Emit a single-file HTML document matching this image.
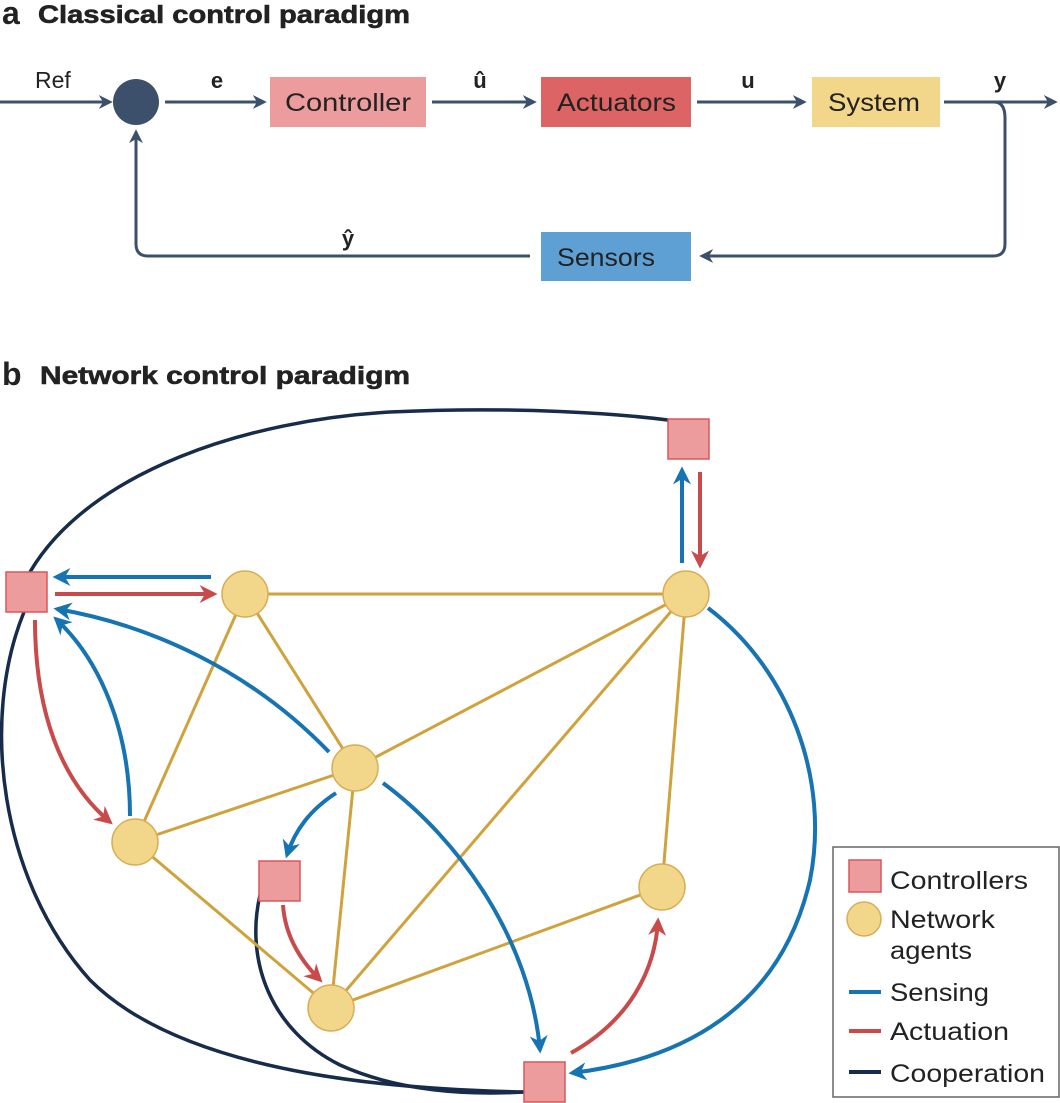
<!DOCTYPE html>
<html><head><meta charset="utf-8"><style>
html,body{margin:0;padding:0;background:#fff;}
svg{display:block;}
text{font-family:"Liberation Sans",sans-serif;}
</style></head><body>
<svg width="1060" height="1103" viewBox="0 0 1060 1103" xmlns="http://www.w3.org/2000/svg">
<defs>
<marker id="ad" viewBox="0 0 10 10" markerWidth="14" markerHeight="14" refX="8" refY="5" orient="auto" markerUnits="userSpaceOnUse"><path d="M0,0 L10,5 L0,10 L3,5 Z" fill="#3c4f6b"/></marker>
<marker id="ab" viewBox="0 0 10 10" markerWidth="18" markerHeight="18" refX="8" refY="5" orient="auto" markerUnits="userSpaceOnUse"><path d="M0,0 L10,5 L0,10 L3,5 Z" fill="#1774b3"/></marker>
<marker id="ar" viewBox="0 0 10 10" markerWidth="18" markerHeight="18" refX="8" refY="5" orient="auto" markerUnits="userSpaceOnUse"><path d="M0,0 L10,5 L0,10 L3,5 Z" fill="#c94a4a"/></marker>
</defs>
<!-- Panel a -->
<text x="2" y="24" font-size="32" font-weight="bold" fill="#222">a</text>
<text x="38" y="23" font-size="25" font-weight="bold" fill="#222" textLength="372" lengthAdjust="spacingAndGlyphs" stroke="#222" stroke-width="0.6">Classical control paradigm</text>
<g stroke="#3c4f6b" stroke-width="3" fill="none">
<line x1="0" y1="102" x2="110" y2="102" marker-end="url(#ad)"/>
<line x1="165" y1="102" x2="264" y2="102" marker-end="url(#ad)"/>
<line x1="432" y1="102" x2="534" y2="102" marker-end="url(#ad)"/>
<line x1="697" y1="102" x2="804" y2="102" marker-end="url(#ad)"/>
<line x1="944" y1="102" x2="1055" y2="102" marker-end="url(#ad)"/>
<path d="M994,102 Q1005,102 1005,118 L1005,244 Q1005,256 993,256 L702,256" marker-end="url(#ad)"/>
<path d="M530,256 L148,256 Q136,256 136,244 L136,132" marker-end="url(#ad)"/>
</g>
<circle cx="136" cy="102" r="23" fill="#3c4f6b"/>
<rect x="270" y="77" width="156" height="50" fill="#ec9c9c"/>
<rect x="541" y="77" width="150" height="50" fill="#dc6464"/>
<rect x="812" y="77" width="128" height="50" fill="#f2d68a"/>
<rect x="541" y="232" width="150" height="49" fill="#5fa0d4"/>
<g font-size="25" fill="#222">
<text x="285" y="111" textLength="126" lengthAdjust="spacingAndGlyphs">Controller</text>
<text x="557" y="111" textLength="119" lengthAdjust="spacingAndGlyphs">Actuators</text>
<text x="828" y="111" textLength="92" lengthAdjust="spacingAndGlyphs">System</text>
<text x="557" y="266" textLength="98" lengthAdjust="spacingAndGlyphs">Sensors</text>
<text x="35" y="88" font-size="23">Ref</text>
</g>
<g font-size="22" font-weight="bold" fill="#222" text-anchor="middle">
<text x="217" y="88">e</text>
<text x="480" y="88">û</text>
<text x="748" y="88">u</text>
<text x="1000" y="88">y</text>
<text x="348" y="246">ŷ</text>
</g>
<!-- Panel b -->
<text x="2" y="385" font-size="32" font-weight="bold" fill="#222">b</text>
<text x="40" y="384" font-size="25" font-weight="bold" fill="#222" textLength="370" lengthAdjust="spacingAndGlyphs" stroke="#222" stroke-width="0.6">Network control paradigm</text>
<!-- cooperation -->
<g stroke="#172b4a" stroke-width="3.5" fill="none">
<path d="M30,572 C90,470 250,420 390,412 C520,406 620,414 668,420"/>
<path d="M24,612 C-20,720 0,880 90,980 C190,1080 420,1090 524,1092"/>
<path d="M260,895 C245,960 270,1030 340,1065 C400,1092 470,1095 524,1092"/>
</g>
<!-- gold edges -->
<g stroke="#d0a23c" stroke-width="3">
<line x1="245" y1="594" x2="686" y2="594"/>
<line x1="245" y1="594" x2="135" y2="842"/>
<line x1="245" y1="594" x2="355" y2="768"/>
<line x1="686" y1="594" x2="355" y2="768"/>
<line x1="686" y1="594" x2="331" y2="1008"/>
<line x1="686" y1="594" x2="662" y2="887"/>
<line x1="355" y1="768" x2="135" y2="842"/>
<line x1="355" y1="768" x2="331" y2="1008"/>
<line x1="135" y1="842" x2="331" y2="1008"/>
<line x1="662" y1="887" x2="331" y2="1008"/>
</g>
<!-- sensing -->
<g stroke="#1774b3" stroke-width="4" fill="none">
<line x1="211" y1="577" x2="56" y2="577" marker-end="url(#ab)"/>
<path d="M329,752 C250,670 150,625 57,609" marker-end="url(#ab)"/>
<path d="M130,816 C130,730 100,660 56,619" marker-end="url(#ab)"/>
<path d="M336,793 C310,810 295,830 287,855" marker-end="url(#ab)"/>
<path d="M383,783 C460,840 530,940 540,1050" marker-end="url(#ab)"/>
<path d="M708,608 C790,670 830,780 810,880 C780,1010 680,1060 572,1073" marker-end="url(#ab)"/>
<line x1="682" y1="563" x2="682" y2="470" marker-end="url(#ab)"/>
</g>
<!-- actuation -->
<g stroke="#c94a4a" stroke-width="4" fill="none">
<line x1="55" y1="594" x2="214" y2="594" marker-end="url(#ar)"/>
<path d="M35,620 C35,710 60,780 110,822" marker-end="url(#ar)"/>
<path d="M283,905 C285,935 300,960 320,980" marker-end="url(#ar)"/>
<path d="M571,1053 C630,1020 655,970 658,921" marker-end="url(#ar)"/>
<line x1="700" y1="472" x2="700" y2="565" marker-end="url(#ar)"/>
</g>
<!-- nodes -->
<g fill="#f2d68a" stroke="#d9ad55" stroke-width="1.5">
<circle cx="245" cy="594" r="23"/>
<circle cx="686" cy="594" r="23"/>
<circle cx="355" cy="768" r="23"/>
<circle cx="135" cy="842" r="23"/>
<circle cx="662" cy="887" r="23"/>
<circle cx="331" cy="1008" r="23"/>
</g>
<g fill="#ec9c9c" stroke="#d9575a" stroke-width="1.5">
<rect x="6" y="572" width="41" height="40"/>
<rect x="668" y="419" width="41" height="40"/>
<rect x="259" y="861" width="41" height="40"/>
<rect x="524" y="1062" width="41" height="40"/>
</g>
<!-- legend -->
<rect x="833" y="847" width="226" height="250" fill="#fff" stroke="#666" stroke-width="1.5"/>
<rect x="849" y="860" width="32" height="32" fill="#ec9c9c" stroke="#d9575a" stroke-width="1.5"/>
<circle cx="864" cy="919" r="17" fill="#f2d68a" stroke="#d9ad55" stroke-width="1.5"/>
<line x1="849" y1="992" x2="881" y2="992" stroke="#1774b3" stroke-width="4"/>
<line x1="849" y1="1031" x2="881" y2="1031" stroke="#c94a4a" stroke-width="4"/>
<line x1="849" y1="1072" x2="881" y2="1072" stroke="#172b4a" stroke-width="4"/>
<g font-size="25" fill="#222">
<text x="890" y="889" textLength="138" lengthAdjust="spacingAndGlyphs">Controllers</text>
<text x="890" y="928" textLength="105" lengthAdjust="spacingAndGlyphs">Network</text>
<text x="890" y="959" textLength="82" lengthAdjust="spacingAndGlyphs">agents</text>
<text x="890" y="1001" textLength="99" lengthAdjust="spacingAndGlyphs">Sensing</text>
<text x="890" y="1040" textLength="119" lengthAdjust="spacingAndGlyphs">Actuation</text>
<text x="890" y="1082" textLength="155" lengthAdjust="spacingAndGlyphs">Cooperation</text>
</g>
</svg>
</body></html>
